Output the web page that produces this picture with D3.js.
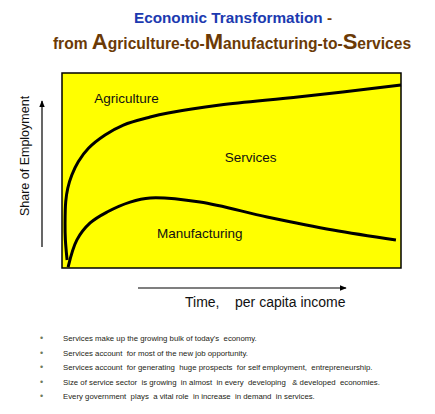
<!DOCTYPE html>
<html>
<head>
<meta charset="utf-8">
<script src="https://cdn.jsdelivr.net/npm/d3@7"></script>
<style>
body{margin:0;background:#fff;}
text{font-family:Arial,"Liberation Sans",sans-serif;}
</style>
</head>
<body>
<script>
// income (0-100) vs share of employment (0-100)
var agriX=[1.5,1.0,0.9,1.1,1.7,2.9,4.8,7.8,12.7,18.1,26.0,31.3,46.6,70.2,100];
var agriY=[4.1,14.4,23.0,34.0,40.9,47.7,54.5,61.4,68.2,73.3,77.4,79.5,83.6,87.8,93.8];
var manuX=[1.8,4.4,8.3,13.3,20.1,26.0,40.7,60.5,79.9,98.5];
var manuY=[0.5,14.4,23.1,28.7,33.8,35.9,33.8,26.2,19.5,14.4];
var areaNames=["Agriculture","Services","Manufacturing"];
var areaX=[9.5,48,28];
var areaY=[87,57,18];
var bullets=[
 "Services make up the growing bulk of today's  economy.",
 "Services account  for most of the new job opportunity.",
 "Services account  for generating  huge prospects  for self employment,  entrepreneurship.",
 "Size of service sector  is growing  in almost  in every  developing   & developed  economies.",
 "Every government  plays  a vital role  in increase  in demand  in services."
];

var width=435,height=414;
var svg=d3.select('body').append('svg')
    .attr('width',width).attr('height',height);

var x=d3.scaleLinear().domain([0,100]).range([62,401]);
var y=d3.scaleLinear().domain([0,100]).range([268,73]);

// title
var t1=svg.append('text').attr('x',233).attr('y',23)
    .attr('text-anchor','middle').attr('font-weight','bold').attr('font-size',15.3);
t1.append('tspan').attr('fill','#1c3ab0').text('Economic Transformation');
t1.append('tspan').attr('fill','#7a3e05').text(' -');

var t2=svg.append('text').attr('x',232).attr('y',49)
    .attr('text-anchor','middle').attr('font-weight','bold').attr('fill','#6b3a06');
[["from ",15.6],["A",22],["griculture-to-",15.6],["M",22],["anufacturing-to-",15.6],["S",22],["ervices",15.6]]
  .forEach(function(p){t2.append('tspan').attr('font-size',p[1]).text(p[0]);});

// plot box
svg.append('rect')
    .attr('x',x(0)).attr('y',y(100))
    .attr('width',x(100)-x(0)).attr('height',y(0)-y(100))
    .attr('fill','#ffff00').attr('stroke','#000').attr('stroke-width',1.5);

var line=d3.line().x(function(d){return x(d[0]);}).y(function(d){return y(d[1]);})
    .curve(d3.curveCatmullRom.alpha(0.5));

svg.append('path').datum(d3.zip(agriX,agriY)).attr('d',line)
    .attr('fill','none').attr('stroke','#000').attr('stroke-width',3);
svg.append('path').datum(d3.zip(manuX,manuY)).attr('d',line)
    .attr('fill','none').attr('stroke','#000').attr('stroke-width',3);

for(var i=0;i<areaNames.length;i++){
    svg.append('text').attr('x',x(areaX[i])).attr('y',y(areaY[i]))
        .attr('dy','0.35em').attr('font-size',13.5).attr('fill','#111')
        .text(areaNames[i]);
}

// arrows
var defs=svg.append('defs');
defs.append('marker').attr('id','arr').attr('viewBox','0 0 10 10')
    .attr('refX',9).attr('refY',5).attr('markerWidth',6).attr('markerHeight',6)
    .attr('orient','auto')
  .append('path').attr('d','M0,1L10,5L0,9z').attr('fill','#000');

svg.append('line').attr('x1',42).attr('y1',247).attr('x2',42).attr('y2',101)
    .attr('stroke','#000').attr('stroke-width',1.2).attr('marker-end','url(#arr)');
svg.append('text').attr('transform','translate(29,156) rotate(-90)')
    .attr('text-anchor','middle').attr('font-size',12.5).attr('fill','#111')
    .text('Share of Employment');

svg.append('line').attr('x1',138).attr('y1',288).attr('x2',346).attr('y2',288)
    .attr('stroke','#000').attr('stroke-width',1.2).attr('marker-end','url(#arr)');
svg.append('text').attr('x',185).attr('y',307).attr('font-size',14).attr('fill','#111')
    .attr('xml:space','preserve').text('Time,    per capita income');

// bullet notes
bullets.forEach(function(b,i){
    var yy=341+i*14.5;
    svg.append('text').attr('x',40).attr('y',yy).attr('font-size',9).attr('fill','#6d7a5e').text('•');
    svg.append('text').attr('x',63).attr('y',yy).attr('font-size',7.8).attr('fill','#1c2414')
        .attr('xml:space','preserve').text(b);
});
</script>
</body>
</html>
